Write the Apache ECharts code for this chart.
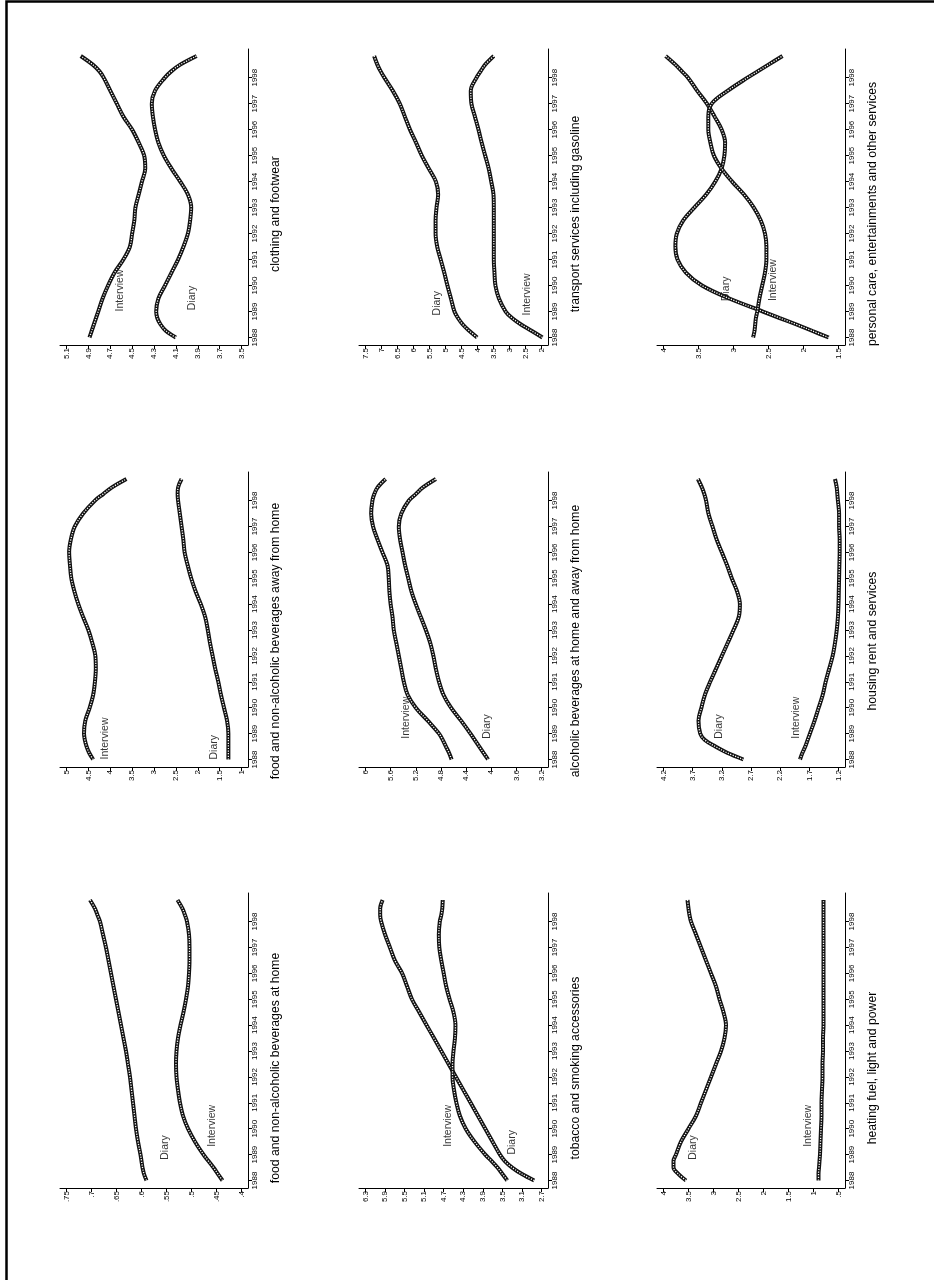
<!DOCTYPE html>
<html>
<head>
<meta charset="utf-8">
<script src="https://cdn.jsdelivr.net/npm/echarts@6/dist/echarts.min.js"></script>
<style>
  html, body { margin: 0; padding: 0; background: #fff; }
  #chart { width: 934px; height: 1280px; }
</style>
</head>
<body>
<div id="chart"></div>
<script>
// Sample dates (decimal years) shared by every curve
const TIMES = [1988, 1988.25, 1988.5, 1988.75, 1989, 1989.5, 1990, 1990.5, 1991, 1991.5,
  1992, 1992.5, 1993, 1993.5, 1994, 1994.5, 1995, 1995.5, 1996, 1996.5,
  1997, 1997.5, 1998, 1998.25, 1998.5, 1998.833];
const YEAR_TICKS = [1988, 1989, 1990, 1991, 1992, 1993, 1994, 1995, 1996, 1997, 1998];

// Smoothed shares by spending category, Diary vs Interview survey
const foodHomeDiary = [.59, .595, .598, .600, .602, .607, .611, .614, .617, .620, .623, .627, .631, .636, .641, .646, .651, .656, .661, .666, .671, .677, .683, .688, .693, .703];
const foodHomeInterview = [.438, .447, .456, .466, .476, .493, .507, .517, .523, .527, .530, .531, .530, .527, .522, .516, .511, .507, .505, .504, .504, .505, .509, .513, .518, .528];
const foodAwayDiary = [1.30, 1.30, 1.30, 1.30, 1.30, 1.33, 1.40, 1.47, 1.53, 1.60, 1.66, 1.72, 1.77, 1.83, 1.93, 2.05, 2.15, 2.23, 2.30, 2.33, 2.37, 2.41, 2.45, 2.46, 2.45, 2.37];
const foodAwayInterview = [4.39, 4.48, 4.54, 4.58, 4.60, 4.57, 4.47, 4.39, 4.35, 4.33, 4.34, 4.41, 4.50, 4.62, 4.73, 4.82, 4.89, 4.92, 4.94, 4.90, 4.81, 4.62, 4.35, 4.16, 3.97, 3.63];
const clothingDiary = [4.10, 4.19, 4.24, 4.27, 4.28, 4.26, 4.20, 4.14, 4.08, 4.03, 3.99, 3.97, 3.96, 3.99, 4.06, 4.14, 4.21, 4.26, 4.29, 4.31, 4.32, 4.29, 4.20, 4.14, 4.06, 3.91];
const clothingInterview = [4.89, 4.87, 4.85, 4.83, 4.81, 4.77, 4.72, 4.66, 4.58, 4.52, 4.50, 4.48, 4.47, 4.44, 4.41, 4.38, 4.39, 4.44, 4.50, 4.58, 4.64, 4.70, 4.76, 4.80, 4.86, 4.97];
const tobaccoDiary = [2.85, 3.10, 3.30, 3.45, 3.55, 3.70, 3.85, 4.00, 4.15, 4.30, 4.45, 4.60, 4.75, 4.90, 5.05, 5.20, 5.35, 5.45, 5.55, 5.70, 5.80, 5.90, 5.98, 6.00, 6.00, 5.95];
const tobaccoInterview = [3.40, 3.50, 3.60, 3.72, 3.85, 4.07, 4.25, 4.37, 4.44, 4.49, 4.52, 4.52, 4.50, 4.47, 4.46, 4.50, 4.58, 4.65, 4.70, 4.75, 4.79, 4.80, 4.78, 4.75, 4.73, 4.72];
const alcoholDiary = [4.05, 4.12, 4.19, 4.26, 4.33, 4.48, 4.64, 4.76, 4.83, 4.88, 4.92, 4.97, 5.04, 5.12, 5.20, 5.27, 5.32, 5.37, 5.41, 5.45, 5.47, 5.43, 5.31, 5.20, 5.09, 4.88];
const alcoholInterview = [4.63, 4.67, 4.72, 4.77, 4.83, 5.01, 5.20, 5.33, 5.39, 5.43, 5.47, 5.51, 5.55, 5.57, 5.60, 5.62, 5.63, 5.65, 5.73, 5.81, 5.88, 5.91, 5.89, 5.86, 5.81, 5.68];
const transportDiary = [4.01, 4.25, 4.46, 4.61, 4.72, 4.83, 4.94, 5.04, 5.15, 5.26, 5.31, 5.31, 5.28, 5.23, 5.30, 5.52, 5.74, 5.92, 6.11, 6.27, 6.43, 6.65, 6.91, 7.03, 7.13, 7.23];
const transportInterview = [1.97, 2.30, 2.64, 2.92, 3.12, 3.33, 3.44, 3.47, 3.49, 3.49, 3.49, 3.49, 3.49, 3.50, 3.57, 3.65, 3.76, 3.87, 3.97, 4.08, 4.19, 4.21, 4.03, 3.90, 3.76, 3.49];
const heatingDiary = [3.55, 3.70, 3.80, 3.80, 3.75, 3.65, 3.50, 3.35, 3.25, 3.15, 3.05, 2.95, 2.85, 2.78, 2.75, 2.80, 2.88, 2.95, 3.05, 3.15, 3.25, 3.35, 3.45, 3.48, 3.50, 3.52];
const heatingInterview = [0.90, 0.90, 0.89, 0.88, 0.87, 0.86, 0.85, 0.84, 0.84, 0.83, 0.82, 0.82, 0.81, 0.81, 0.80, 0.80, 0.80, 0.80, 0.80, 0.80, 0.80, 0.80, 0.80, 0.80, 0.80, 0.80];
const housingDiary = [2.83, 3.10, 3.31, 3.49, 3.57, 3.60, 3.55, 3.49, 3.40, 3.30, 3.20, 3.10, 3.00, 2.91, 2.89, 2.94, 3.03, 3.11, 3.20, 3.29, 3.36, 3.43, 3.47, 3.50, 3.54, 3.61];
const housingInterview = [1.86, 1.82, 1.77, 1.73, 1.69, 1.61, 1.54, 1.47, 1.42, 1.36, 1.30, 1.26, 1.23, 1.21, 1.20, 1.195, 1.19, 1.185, 1.18, 1.18, 1.19, 1.19, 1.21, 1.22, 1.23, 1.26];
const personalDiary = [1.64, 1.87, 2.10, 2.34, 2.58, 3.06, 3.45, 3.68, 3.80, 3.83, 3.81, 3.72, 3.56, 3.39, 3.26, 3.17, 3.13, 3.12, 3.17, 3.27, 3.38, 3.52, 3.65, 3.74, 3.83, 3.97];
const personalInterview = [2.72, 2.70, 2.69, 2.68, 2.66, 2.63, 2.59, 2.55, 2.53, 2.53, 2.55, 2.61, 2.71, 2.85, 3.02, 3.17, 3.28, 3.33, 3.36, 3.36, 3.31, 3.08, 2.80, 2.65, 2.50, 2.30];

// Value-axis tick labels per panel
const foodHomeTicks = [.4, .45, .5, .55, .6, .65, .7, .75];
const foodAwayTicks = [1, 1.5, 2, 2.5, 3, 3.5, 4, 4.5, 5];
const clothingTicks = [3.5, 3.7, 3.9, 4.1, 4.3, 4.5, 4.7, 4.9, 5.1];
const tobaccoTicks = [2.7, 3.1, 3.5, 3.9, 4.3, 4.7, 5.1, 5.5, 5.9, 6.3];
const alcoholTicks = [3.2, 3.6, 4, 4.4, 4.8, 5.2, 5.6, 6];
const transportTicks = [2, 2.5, 3, 3.5, 4, 4.5, 5, 5.5, 6, 6.5, 7, 7.5];
const heatingTicks = [.5, 1, 1.5, 2, 2.5, 3, 3.5, 4];
const housingTicks = [1.2, 1.7, 2.2, 2.7, 3.2, 3.7, 4.2];
const personalTicks = [1.5, 2, 2.5, 3, 3.5, 4];

// Curve labels: [value, year] where each label starts
const foodHomeLabels = { Diary: [.553, 1988.8], Interview: [.458, 1989.3] };
const foodAwayLabels = { Interview: [4.11, 1988.0], Diary: [1.63, 1988.0] };
const clothingLabels = { Interview: [4.61, 1989.0], Diary: [3.95, 1989.05] };
const tobaccoLabels = { Interview: [4.62, 1989.3], Diary: [3.3, 1989.0] };
const alcoholLabels = { Interview: [5.36, 1988.8], Diary: [4.07, 1988.8] };
const transportLabels = { Diary: [5.26, 1988.85], Interview: [2.46, 1988.85] };
const heatingLabels = { Diary: [3.4, 1988.8], Interview: [1.1, 1989.3] };
const housingLabels = { Diary: [3.25, 1988.8], Interview: [1.93, 1988.8] };
const personalLabels = { Diary: [3.10, 1989.4], Interview: [2.44, 1989.4] };

const PANELS = [
  { title: 'food and non-alcoholic beverages at home', ticks: foodHomeTicks, diary: foodHomeDiary, interview: foodHomeInterview, labels: foodHomeLabels },
  { title: 'food and non-alcoholic beverages away from home', ticks: foodAwayTicks, diary: foodAwayDiary, interview: foodAwayInterview, labels: foodAwayLabels },
  { title: 'clothing and footwear', ticks: clothingTicks, diary: clothingDiary, interview: clothingInterview, labels: clothingLabels },
  { title: 'tobacco and smoking accessories', ticks: tobaccoTicks, diary: tobaccoDiary, interview: tobaccoInterview, labels: tobaccoLabels },
  { title: 'alcoholic beverages at home and away from home', ticks: alcoholTicks, diary: alcoholDiary, interview: alcoholInterview, labels: alcoholLabels },
  { title: 'transport services including gasoline', ticks: transportTicks, diary: transportDiary, interview: transportInterview, labels: transportLabels },
  { title: 'heating fuel, light and power', ticks: heatingTicks, diary: heatingDiary, interview: heatingInterview, labels: heatingLabels },
  { title: 'housing rent and services', ticks: housingTicks, diary: housingDiary, interview: housingInterview, labels: housingLabels },
  { title: 'personal care, entertainments and other services', ticks: personalTicks, diary: personalDiary, interview: personalInterview, labels: personalLabels }
];

// Page layout: the figure is turned a quarter turn, so each panel's
// value axis runs along the bottom and the time axis up its right side.
const COL_X = [[60, 248], [359, 548], [657, 845]];   // plot left / right per column
const ROW_Y = [[49, 345], [472, 767], [893, 1188]];  // plot top / bottom per row
const CELL_H = 427;
const EDGE = 6.5;          // plot-region margin in px
const FONT = '"Liberation Sans", Arial, Helvetica, sans-serif';

function fmtTick(v) {
  let s = String(+v.toFixed(3));
  if (s.startsWith('0.')) s = s.slice(1);
  return s;
}

const grids = [], xAxes = [], yAxes = [], series = [], graphics = [];

PANELS.forEach((p, n) => {
  const col = Math.floor(n / 3);
  const row = 2 - (n % 3);
  const [x0, x1] = COL_X[col];
  const [y0, y1] = ROW_Y[row];
  const w = x1 - x0, h = y1 - y0;

  grids.push({ left: x0, top: y0, width: w, height: h, containLabel: false });

  const lo = p.ticks[0], hi = p.ticks[p.ticks.length - 1];
  const ppu = (w - 2 * EDGE) / (hi - lo);
  xAxes.push({
    gridIndex: n, type: 'value', inverse: true, position: 'bottom',
    min: lo - EDGE / ppu, max: hi + EDGE / ppu,
    axisLine: { show: true, onZero: false, lineStyle: { color: '#000', width: 1 } },
    axisTick: { show: true, length: 4, customValues: p.ticks, lineStyle: { color: '#000', width: 1 } },
    axisLabel: { show: true, customValues: p.ticks, rotate: 90, margin: 3, fontSize: 8,
      fontFamily: FONT, color: '#000', formatter: fmtTick },
    splitLine: { show: false }
  });

  const ppy = (h - 14.5) / (TIMES[TIMES.length - 1] - TIMES[0]);
  yAxes.push({
    gridIndex: n, type: 'value', position: 'right',
    min: TIMES[0] - 7.5 / ppy, max: TIMES[TIMES.length - 1] + 7 / ppy,
    axisLine: { show: true, onZero: false, lineStyle: { color: '#000', width: 1 } },
    axisTick: { show: true, length: 4, customValues: YEAR_TICKS, lineStyle: { color: '#000', width: 1 } },
    axisLabel: { show: true, customValues: YEAR_TICKS, rotate: 90, margin: 3, fontSize: 8,
      fontFamily: FONT, color: '#000', formatter: v => String(Math.round(v)) },
    splitLine: { show: false }
  });

  // each curve: dark band with a light dotted core, like a chain of hollow markers
  [['Diary', p.diary], ['Interview', p.interview]].forEach(([name, vals]) => {
    const pts = TIMES.map((t, k) => [vals[k], t]);
    series.push({
      name: name, type: 'line', xAxisIndex: n, yAxisIndex: n, data: pts,
      smooth: 0.35, showSymbol: false, silent: true, animation: false,
      lineStyle: { color: '#111', width: 4 }
    });
    series.push({
      name: name, type: 'line', xAxisIndex: n, yAxisIndex: n, data: pts,
      smooth: 0.35, showSymbol: false, silent: true, animation: false,
      lineStyle: { color: '#fff', width: 1.3, type: [1.2, 1.4] }
    });
  });

  // curve names written beside the curves
  Object.keys(p.labels).forEach(name => {
    series.push({
      type: 'scatter', xAxisIndex: n, yAxisIndex: n, silent: true, animation: false,
      symbolSize: 1, itemStyle: { color: 'rgba(0,0,0,0)' },
      data: [p.labels[name]],
      label: { show: true, formatter: name, position: 'inside', rotate: 90,
        align: 'left', verticalAlign: 'middle', fontSize: 10.5, fontFamily: FONT, color: '#000' }
    });
  });

  // panel caption to the right of the year axis
  graphics.push({
    type: 'text', x: x1 + 27.5, y: row * CELL_H + 214, rotation: Math.PI / 2, silent: true,
    style: { text: p.title, fontSize: 12.2, fontFamily: FONT, fill: '#000',
      align: 'center', verticalAlign: 'middle', textAlign: 'center', textVerticalAlign: 'middle' }
  });
});

// outer frame
graphics.push({
  type: 'rect', shape: { x: 6.5, y: 1.5, width: 1000, height: 1400 }, silent: true,
  style: { fill: 'none', stroke: '#000', lineWidth: 2.5 }
});

const chart = echarts.init(document.getElementById('chart'), null, { renderer: 'canvas' });
chart.setOption({
  animation: false,
  backgroundColor: '#fff',
  textStyle: { fontFamily: FONT },
  grid: grids,
  xAxis: xAxes,
  yAxis: yAxes,
  series: series,
  graphic: graphics
});
</script>
</body>
</html>
